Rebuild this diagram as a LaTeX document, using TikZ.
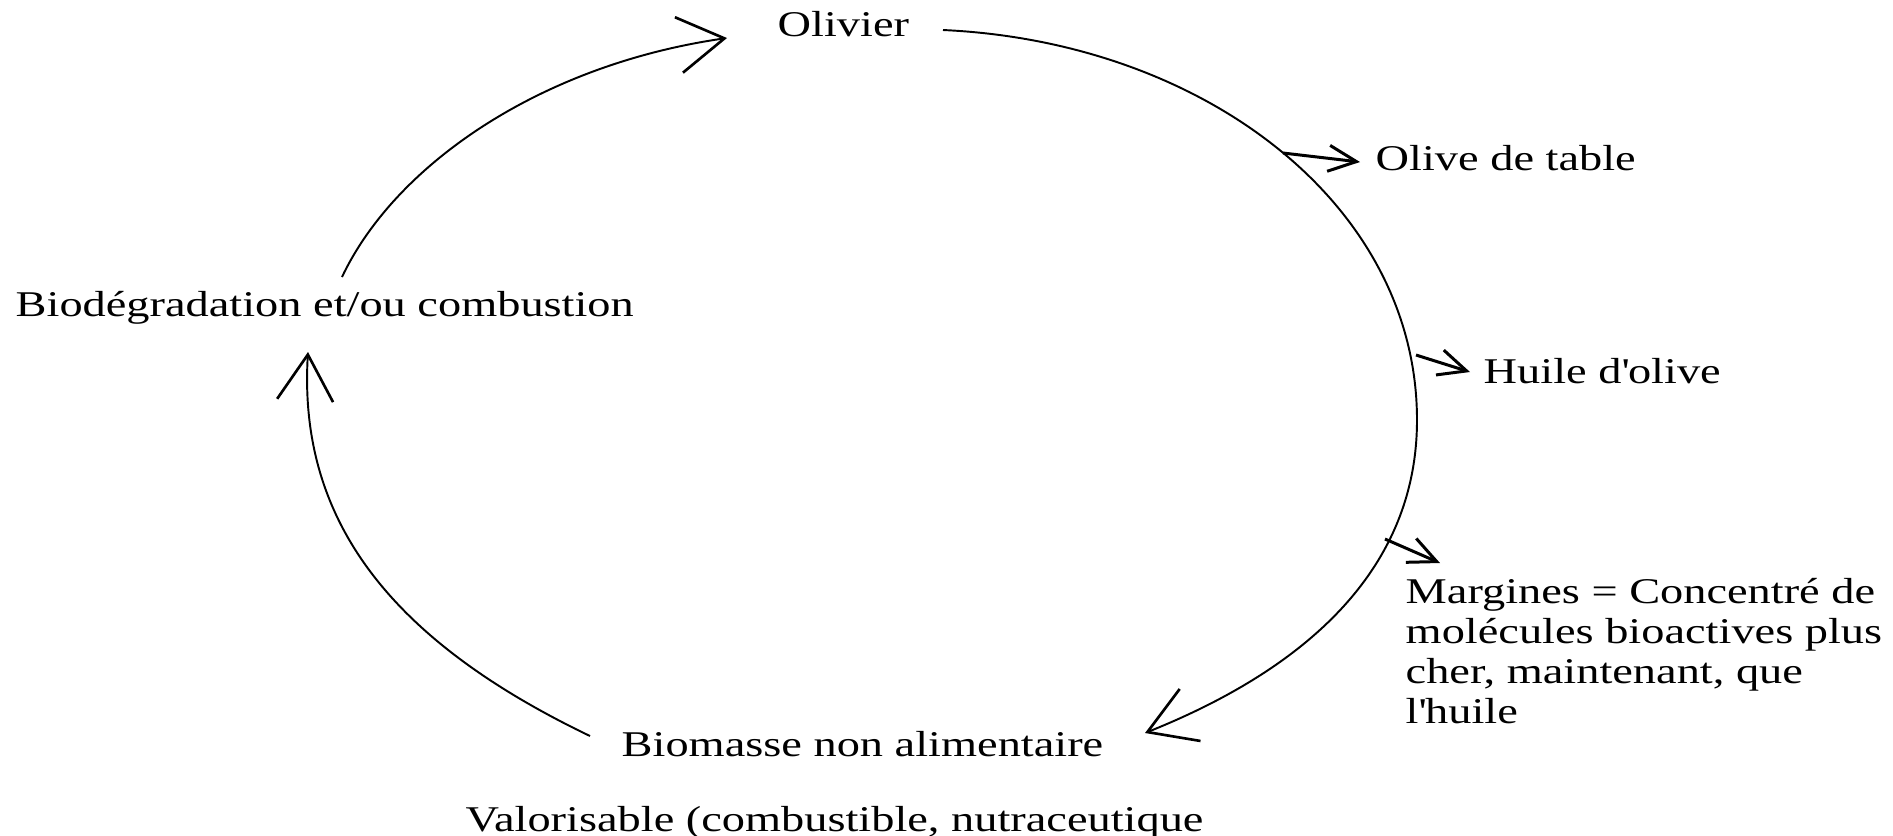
\documentclass[tikz,border=0pt]{standalone}
\usepackage{fontspec}
\setmainfont{Liberation Serif}[FakeStretch=1.28]
\usetikzlibrary{arrows.meta, calc}
\tikzset{
	txt/.style={inner sep=0pt, anchor=base west, font=\fontsize{10.3pt}{11.3pt}\selectfont},
	ring/.style={draw, line width=0.55pt, -{Straight Barb[length=4.6mm, width=5.6mm, line width=0.75pt]}},
	spur/.style={draw, line width=0.85pt, -{Straight Barb[length=2.8mm, width=2.6mm]}}
}

\begin{document}
\begin{tikzpicture}[x=0.01cm, y=-0.01cm]
	\useasboundingbox (0,0) rectangle (1893,835);

	% Stages of the cycle
	\node[txt] (olivier) at (777,36) {Olivier};
	\node[txt] (biomasse) at (621,756) {Biomasse non alimentaire};
	\node[txt] (valor) at (465,831) {Valorisable (combustible, nutraceutique};
	\node[txt] (biodeg) at (15,316) {Biodégradation et/ou combustion};

	% Products taken off the cycle
	\node[txt] (olive) at (1375,170) {Olive de table};
	\node[txt] (huile) at (1483,383) {Huile d\textquotesingle olive};
	\node[txt, anchor=north west, align=left] (margines) at (1405,578)
		{Margines = Concentré de\\molécules bioactives plus\\cher, maintenant, que\\l\textquotesingle huile};

	% Ends of the arcs
	\coordinate (r1s) at (943,30);
	\coordinate (r1m) at (1417,420);
	\coordinate (r1e) at (1145,733);
	\coordinate (r2s) at (590,736);
	\coordinate (r2e) at (308,352);
	\coordinate (r3s) at (342,277);
	\coordinate (r3e) at (727,38);

	% The cycle
	\path[ring] (r1s) .. controls (1205,42) and (1417,205) .. (r1m)
		.. controls (1417,580) and (1290,675) .. (r1e);
	\path[ring] (r2s) .. controls (390,640) and (298,520) .. (r2e);
	\path[ring] (r3s) .. controls (395,165) and (540,65) .. (r3e);

	% Branches
	\coordinate (b1) at (1283,153);
	\coordinate (b2) at (1416,355);
	\coordinate (b3) at (1385,539);
	\path[spur] (b1) -- ($(olive.base west)+(-15,-8)$);
	\path[spur] (b2) -- ($(huile.base west)+(-13,-11)$);
	\path[spur] (b3) -- ($(margines.north west)+(35,-15)$);
\end{tikzpicture}
\end{document}
